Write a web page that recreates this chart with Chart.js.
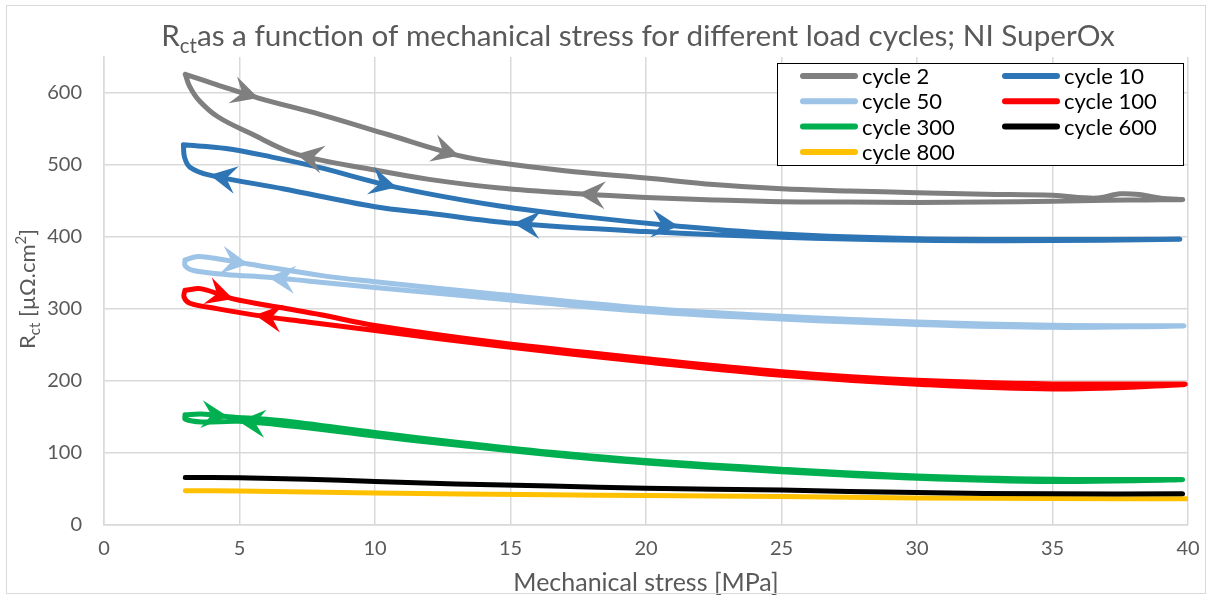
<!DOCTYPE html>
<html lang="en">

<head>
    <meta charset="UTF-8">
    <title>Rct vs mechanical stress</title>
    <style>
        body { margin: 0; background: #fff; }
        canvas { display: block; }
    </style>
</head>

<body>
    <canvas id="rct-chart" width="1212" height="598"></canvas>

    <script src="https://cdn.jsdelivr.net/npm/chart.js"></script>

    <script>
        // Loading branch first, then unloading branch back to the start (closed loop)
        const stress2 = [3.0, 4.2, 5.7, 8.0, 10.5, 13.1, 14.6, 17, 20, 22.5, 25, 27.5, 30, 32.5, 35, 36.6, 37.5, 38.2, 39, 39.8,
            38.5, 37, 35, 32.5, 30, 27.5, 25, 22.5, 20, 17.5, 14.6, 12, 10, 7.1, 5.4, 4.2, 3.5, 3.15, 3.0];
        const rct2 = [626, 611, 593, 570, 542, 513, 503, 492, 482, 473, 467, 464, 461.5, 459.5, 458, 454, 460, 459, 454, 452,
            451.5, 451, 449.5, 448.5, 448, 448.5, 449, 451.5, 455, 460, 468, 480, 493, 515, 544, 567, 590, 610, 626];
        const arrows2 = [2, 5, 29, 33];

        const stress10 = [2.93, 4.5, 6.2, 7.9, 10.8, 14.6, 17.5, 21.2, 25, 30, 35, 39.7,
            35, 30, 25, 20, 15.1, 12, 10, 6.6, 3.9, 3.17, 2.97, 2.93];
        const rct10 = [528, 523, 511, 497, 469, 443, 429, 415, 404, 397.5, 396.5, 397,
            395, 395.5, 399.5, 407.5, 419, 433, 442, 467, 486, 497, 511, 528];
        const arrows10 = [4, 7, 16, 20];

        const stress50 = [2.99, 3.5, 5.33, 8.1, 10, 14.6, 20, 25, 30, 35, 39.85,
            35, 30, 25, 20, 14.6, 10, 7.5, 6.06, 4.5, 3.3, 2.99, 2.99];
        const rct50 = [368, 373, 362.5, 346, 338, 320, 301, 290, 282, 277.5, 276.5,
            274.5, 278.5, 286, 296.5, 314, 330, 339, 344, 348, 353.5, 360, 368];
        const arrows50 = [2, 18];

        const stress100 = [2.99, 3.6, 4.77, 6.5, 8, 10, 14.6, 20, 25, 30, 35, 39.9,
            35, 30, 25, 20, 14.6, 10, 7.5, 5.57, 4.16, 3.17, 2.95, 2.99];
        const rct100 = [326, 328, 314, 302, 292, 277, 253, 231, 213, 201, 196, 195.5,
            189, 195.5, 208, 226.5, 248.5, 270, 282, 291.5, 300.5, 308, 317, 326];
        const arrows100 = [2, 19];

        const stress300 = [2.99, 3.6, 4.59, 6.5, 10, 13, 16.5, 20, 25, 30, 35, 39.8,
            35, 30, 25, 20, 16.5, 13, 10, 7, 4.96, 3.6, 3.0, 2.99];
        const rct300 = [153, 154, 150.5, 145, 128.5, 115, 101, 89.5, 77.5, 68, 63.5, 63,
            60.5, 65, 74, 86, 97.5, 111, 123.5, 137, 144, 143, 147, 153];
        const arrows300 = [2, 20];

        const stress600 = [3, 5, 7.5, 10, 13, 16.5, 20, 25, 30, 35, 39.8];
        const rct600 = [66, 65.5, 63.5, 60.5, 57, 54, 51, 48.5, 45, 43.3, 43.3];

        const stress800 = [3, 5, 10, 16.5, 20, 25, 30, 35, 39.95];
        const rct800 = [47.5, 47.2, 44.5, 42, 41, 39.5, 37.5, 36.7, 36.3];

        const FONT = 'Lato, "Open Sans", sans-serif';
        const TEXT_GREY = '#595959';
        const GRID = '#d9d9d9';

        function series(label, xs, ys, color, arrows) {
            return {
                label: label,
                data: xs.map((x, i) => ({ x: x, y: ys[i] })),
                borderColor: color,
                backgroundColor: color,
                borderWidth: 5,
                borderCapStyle: 'round',
                borderJoinStyle: 'round',
                showLine: true,
                tension: 0.35,
                pointRadius: 0,
                pointHoverRadius: 0,
                arrowAt: arrows || []
            };
        }

        const datasets = [
            series('cycle 2', stress2, rct2, '#7f7f7f', arrows2),
            series('cycle 10', stress10, rct10, '#2e75b6', arrows10),
            series('cycle 50', stress50, rct50, '#9dc3e6', arrows50),
            series('cycle 100', stress100, rct100, '#ff0000', arrows100),
            series('cycle 300', stress300, rct300, '#00b050', arrows300),
            series('cycle 600', stress600, rct600, '#000000'),
            series('cycle 800', stress800, rct800, '#ffc000')
        ];

        // draws runs of text with sub/superscript parts, starting at x
        function drawRuns(ctx, runs, x, y) {
            runs.forEach(r => {
                ctx.font = r.size + 'px ' + FONT;
                ctx.fillText(r.t, x, y + (r.dy || 0));
                x += ctx.measureText(r.t).width;
            });
        }
        function runsWidth(ctx, runs) {
            let w = 0;
            runs.forEach(r => {
                ctx.font = r.size + 'px ' + FONT;
                w += ctx.measureText(r.t).width;
            });
            return w;
        }

        // stealth-style arrowheads on the loops, pointing along the curve
        const arrowPlugin = {
            id: 'arrowHeads',
            afterDatasetsDraw(chart) {
                const ctx = chart.ctx;
                chart.data.datasets.forEach((ds, i) => {
                    const pts = chart.getDatasetMeta(i).data;
                    ds.arrowAt.forEach(k => {
                        const p = pts[k], q = pts[k - 1];
                        let dx = p.x - q.x, dy = p.y - q.y;
                        const len = Math.hypot(dx, dy);
                        dx /= len; dy /= len;
                        const nx = -dy, ny = dx;
                        const L = 27, W = 14, N = 17;
                        ctx.save();
                        ctx.fillStyle = ds.borderColor;
                        ctx.beginPath();
                        ctx.moveTo(p.x, p.y);
                        ctx.lineTo(p.x - L * dx + W * nx, p.y - L * dy + W * ny);
                        ctx.lineTo(p.x - N * dx, p.y - N * dy);
                        ctx.lineTo(p.x - L * dx - W * nx, p.y - L * dy - W * ny);
                        ctx.closePath();
                        ctx.fill();
                        ctx.restore();
                    });
                });
            }
        };

        // chart title, y axis title, boxed legend and outer frame
        const decorPlugin = {
            id: 'decor',
            afterDraw(chart) {
                const ctx = chart.ctx;
                const area = chart.chartArea;
                ctx.save();
                ctx.textBaseline = 'alphabetic';
                ctx.fillStyle = TEXT_GREY;

                const title = [
                    { t: 'R', size: 29.7 },
                    { t: 'ct', size: 20.5, dy: 7 },
                    { t: 'as a function of mechanical stress for different load cycles; NI SuperOx', size: 29.7 }
                ];
                drawRuns(ctx, title, 638 - runsWidth(ctx, title) / 2, 46);

                const yTitle = [
                    { t: 'R', size: 22 },
                    { t: 'ct', size: 15, dy: 5 },
                    { t: ' [\u00b5\u03a9.cm', size: 22 },
                    { t: '2', size: 15, dy: -9 },
                    { t: ']', size: 22 }
                ];
                ctx.save();
                ctx.translate(35, (area.top + area.bottom) / 2 - 2);
                ctx.rotate(-Math.PI / 2);
                drawRuns(ctx, yTitle, -runsWidth(ctx, yTitle) / 2, 0);
                ctx.restore();

                // legend box in the upper right of the plot
                const bx = area.right - 411, by = area.top + 6, bw = 406, bh = 102;
                ctx.fillStyle = '#fff';
                ctx.fillRect(bx, by, bw, bh);
                ctx.strokeStyle = '#000';
                ctx.lineWidth = 1;
                ctx.strokeRect(bx + 0.5, by + 0.5, bw, bh);
                ctx.font = '22px ' + FONT;
                ctx.textBaseline = 'middle';
                ctx.lineCap = 'round';
                chart.data.datasets.forEach((ds, i) => {
                    const col = i % 2, row = Math.floor(i / 2);
                    const x0 = bx + 26 + col * 202;
                    const y0 = by + 13 + row * 25.3;
                    ctx.strokeStyle = ds.borderColor;
                    ctx.lineWidth = 6;
                    ctx.beginPath();
                    ctx.moveTo(x0, y0);
                    ctx.lineTo(x0 + 52, y0);
                    ctx.stroke();
                    ctx.fillStyle = '#000';
                    ctx.fillText(ds.label, x0 + 59, y0 + 1);
                });

                ctx.strokeStyle = GRID;
                ctx.lineWidth = 1;
                ctx.strokeRect(6.5, 5.5, 1199, 588);
                ctx.restore();
            }
        };

        const ctx = document.getElementById('rct-chart').getContext('2d');
        new Chart(ctx, {
            type: 'scatter',
            data: { datasets: datasets },
            options: {
                responsive: false,
                animation: false,
                devicePixelRatio: 1,
                layout: { padding: { left: 0, top: 57, right: 24, bottom: 0 } },
                plugins: {
                    legend: { display: false },
                    title: { display: false },
                    tooltip: { enabled: false }
                },
                scales: {
                    x: {
                        type: 'linear',
                        min: 0,
                        max: 40,
                        ticks: { stepSize: 5, color: TEXT_GREY, font: { family: FONT, size: 20 }, padding: 12 },
                        grid: { color: GRID, lineWidth: 1.5, drawTicks: false },
                        border: { color: GRID, width: 1.5 },
                        title: {
                            display: true,
                            text: 'Mechanical stress [MPa]',
                            color: TEXT_GREY,
                            font: { family: FONT, size: 25 },
                            padding: 0
                        },
                        afterFit(scale) { scale.height = 73; }
                    },
                    y: {
                        type: 'linear',
                        min: 0,
                        max: 650,
                        ticks: { stepSize: 100, color: TEXT_GREY, font: { family: FONT, size: 20 }, padding: 22 },
                        grid: { color: GRID, lineWidth: 1.5, drawTicks: false },
                        border: { color: GRID, width: 1.5 },
                        afterBuildTicks(scale) {
                            scale.ticks = scale.ticks.filter(t => t.value % 100 === 0);
                        },
                        afterFit(scale) { scale.width = 104; }
                    }
                }
            },
            plugins: [arrowPlugin, decorPlugin]
        });
    </script>
</body>

</html>
